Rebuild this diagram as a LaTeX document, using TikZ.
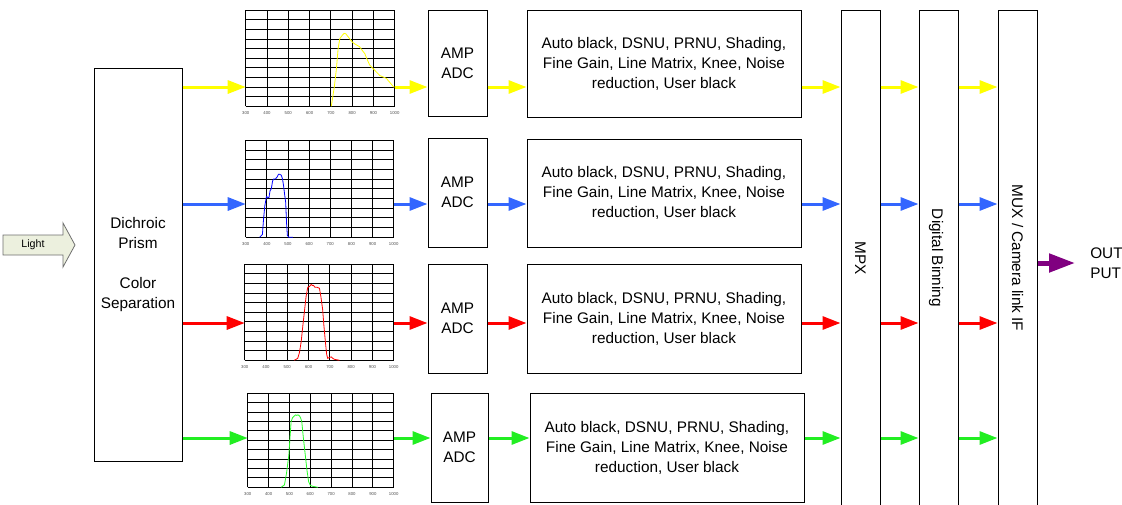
\documentclass[tikz,border=0pt]{standalone}
\usepackage{fontspec}
\setmainfont{Liberation Sans}
\usetikzlibrary{arrows.meta}
\definecolor{cyel}{RGB}{255,255,0}
\definecolor{cblu}{RGB}{51,102,255}
\definecolor{cred}{RGB}{255,0,0}
\definecolor{cgrn}{RGB}{34,238,34}
\definecolor{cpur}{RGB}{128,0,128}
\definecolor{lightfill}{RGB}{236,240,222}
\definecolor{lightedge}{RGB}{110,110,110}
\definecolor{curveblue}{RGB}{0,0,255}
\definecolor{curvegreen}{RGB}{40,255,40}
\tikzset{
  blk/.style={draw=black, line width=0.75pt, inner sep=0pt, align=center,
    font=\fontsize{11.5pt}{15pt}\selectfont},
  carr/.style={line width=2.25pt, -{Triangle[length=13.5pt,width=9.75pt]}},
  gridline/.style={line width=0.6pt, black},
  tick/.style={font=\fontsize{3.2pt}{4pt}\selectfont, text=black!70, inner sep=0pt},
  curve/.style={line width=0.6pt},
  graphbox/.style={inner sep=0pt}
}
\begin{document}
\begin{tikzpicture}[x=0.75pt, y=-0.75pt]
\useasboundingbox (0,0) rectangle (1122,504);

% Light arrow
\filldraw[fill=lightfill, draw=lightedge, line width=0.6pt]
  (3,235) -- (63,235) -- (63,223) -- (75,245) -- (63,267) -- (63,255) -- (3,255) -- cycle;
\node[font=\fontsize{8pt}{9pt}\selectfont] (light) at (33,245) {Light};

% Prism
\node[blk, minimum width={88*0.75pt}, minimum height={393*0.75pt}] (prism) at (138,264.5)
  {Dichroic\\Prism\\[15pt]Color\\Separation};

% Graph frames (named nodes)
\node[graphbox, minimum width={149*0.75pt}, minimum height={96*0.75pt}] (g1) at (320.5,58) {};
\node[graphbox, minimum width={148*0.75pt}, minimum height={97*0.75pt}] (g2) at (320,188.5) {};
\node[graphbox, minimum width={149*0.75pt}, minimum height={96*0.75pt}] (g3) at (319.5,312) {};
\node[graphbox, minimum width={146*0.75pt}, minimum height={94*0.75pt}] (g4) at (321,440) {};

% Graph contents
\newcommand{\graphgrid}{%
  \foreach \i in {300,400,...,1000} \draw[gridline] (\i,0) -- (\i,10);
  \foreach \j in {0,...,10} \draw[gridline] (300,\j) -- (1000,\j);
  \foreach \i in {300,400,...,1000} \node[tick] at (\i,-0.72) {\i};
}
\begin{scope}[x=0.159643pt, y=7.2pt, shift={(g1.south west)}, shift={(-300,0)}]
  \graphgrid
  \draw[curve, cyel] (702,0) -- (716,2) -- (726,3.9) -- (734,6) -- (742,7.05) -- (754,7.4) -- (762,7.6) -- (770,7.55)
    -- (788,7.05) -- (800,6.7) -- (812,6.5) -- (835,6.2) -- (848,5.8) -- (859,5.5) -- (870,4.9) -- (882,4.3)
    -- (906,3.75) -- (930,3.2) -- (961,2.9) -- (980,2.4) -- (995,2.0) -- (1000,2.0);
\end{scope}
\begin{scope}[x=0.158571pt, y=7.275pt, shift={(g2.south west)}, shift={(-300,0)}]
  \graphgrid
  \draw[curve, curveblue] (366,0) -- (379,0.3) -- (384,1.8) -- (390,3.2) -- (398,4.2) -- (405,4.1) -- (410,4.1)
    -- (415,4.8) -- (421,5.0) -- (427,5.8) -- (432,6.0) -- (440,6.0) -- (448,6.2) -- (455,6.5) -- (460,6.5)
    -- (468,6.4) -- (474,6.0) -- (479,5.3) -- (484,4.4) -- (489,3.6) -- (493,1.5) -- (497,0.2) -- (504,0) -- (523,0);
\end{scope}
\begin{scope}[x=0.159643pt, y=7.2pt, shift={(g3.south west)}, shift={(-300,0)}]
  \graphgrid
  \draw[curve, cred] (533,0) -- (549,0.2) -- (557,0.8) -- (565,1.9) -- (573,3.6) -- (580,5.0) -- (588,6.6) -- (596,7.6)
    -- (605,7.7) -- (612,7.9) -- (618,7.8) -- (623,7.8) -- (630,7.6) -- (640,7.6) -- (651,7.5) -- (658,6.6)
    -- (666,5.3) -- (672,3.6) -- (679,1.9) -- (685,0.6) -- (690,0.2) -- (698,0.3) -- (706,0.35) -- (714,0.2)
    -- (721,0.1) -- (745,0);
\end{scope}
\begin{scope}[x=0.156429pt, y=7.05pt, shift={(g4.south west)}, shift={(-300,0)}]
  \graphgrid
  \draw[curve, curvegreen] (460,0) -- (476,0.25) -- (486,1.5) -- (497,3.4) -- (503,5.4) -- (508,7.0) -- (515,7.4)
    -- (524,7.6) -- (530,7.7) -- (535,7.65) -- (541,7.7) -- (548,7.6) -- (553,7.4) -- (559,7.0) -- (567,5.2)
    -- (576,3.4) -- (584,1.8) -- (592,0.6) -- (600,0.2) -- (612,0.1) -- (636,0);
\end{scope}

% AMP/ADC boxes
\node[blk, minimum width={59*0.75pt}, minimum height={106*0.75pt}] (a1) at (457.5,63) {AMP\\ADC};
\node[blk, minimum width={59*0.75pt}, minimum height={109*0.75pt}] (a2) at (457.5,192.5) {AMP\\ADC};
\node[blk, minimum width={59*0.75pt}, minimum height={109*0.75pt}] (a3) at (457.5,318.5) {AMP\\ADC};
\node[blk, minimum width={57*0.75pt}, minimum height={109*0.75pt}] (a4) at (459.5,447.5) {AMP\\ADC};

% Processing boxes
\newcommand{\proctext}{Auto black, DSNU, PRNU, Shading,\\Fine Gain, Line Matrix, Knee, Noise\\reduction, User black}
\node[blk, minimum width={274*0.75pt}, minimum height={107*0.75pt}] (p1) at (664,63.5) {\proctext};
\node[blk, minimum width={274*0.75pt}, minimum height={108*0.75pt}] (p2) at (664,193) {\proctext};
\node[blk, minimum width={274*0.75pt}, minimum height={109*0.75pt}] (p3) at (664,318.5) {\proctext};
\node[blk, minimum width={274*0.75pt}, minimum height={109*0.75pt}] (p4) at (667,447.5) {\proctext};

% Tall columns
\node[blk, minimum width={39*0.75pt}, minimum height={497*0.75pt}] (mpx) at (860.5,258.5) {};
\node[blk, minimum width={39*0.75pt}, minimum height={497*0.75pt}] (dbin) at (938.5,258.5) {};
\node[blk, minimum width={39*0.75pt}, minimum height={497*0.75pt}] (mux) at (1017.5,258.5) {};
\node[font=\fontsize{11.5pt}{15pt}\selectfont, rotate=-90] (mpxt) at (860.5,258) {MPX};
\node[font=\fontsize{11.5pt}{15pt}\selectfont, rotate=-90] (dbint) at (936,258) {Digital Binning};
\node[font=\fontsize{11.5pt}{15pt}\selectfont, rotate=-90] (muxt) at (1017.5,258) {MUX / Camera link IF};

% Row coordinates
\coordinate (r1) at (0,87);
\coordinate (r2) at (0,204);
\coordinate (r3) at (0,323);
\coordinate (r4) at (0,438);

% Row arrows
\foreach \r/\g/\a/\p/\c in {r1/g1/a1/p1/cyel, r2/g2/a2/p2/cblu, r3/g3/a3/p3/cred, r4/g4/a4/p4/cgrn}{
  \draw[carr, \c] (prism.east |- \r) -- (\g.west |- \r);
  \draw[carr, \c] (\g.east |- \r) -- (\a.west |- \r);
  \draw[carr, \c] (\a.east |- \r) -- (\p.west |- \r);
  \draw[carr, \c] (\p.east |- \r) -- (mpx.west |- \r);
  \draw[carr, \c] (mpx.east |- \r) -- (dbin.west |- \r);
  \draw[carr, \c] (dbin.east |- \r) -- (mux.west |- \r);
}

% Output
\coordinate (outend) at (1075,263);
\draw[cpur, line width=3.75pt, -{Triangle[length=19.5pt,width=13.5pt]}] (mux.east |- outend) -- (outend);
\node[anchor=west, align=left, inner sep=0pt, font=\fontsize{11.5pt}{15pt}\selectfont] (out) at (1090,263) {OUT\\PUT};
\end{tikzpicture}
\end{document}
